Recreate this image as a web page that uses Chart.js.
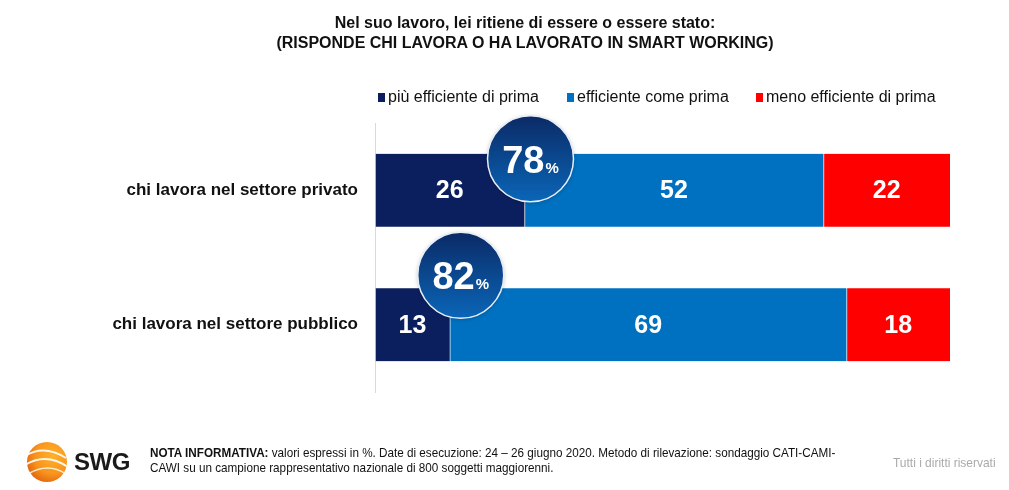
<!DOCTYPE html>
<html>
<head>
<meta charset="utf-8">
<script src="https://cdn.jsdelivr.net/npm/chart.js@4"></script>
<style>
  body { margin: 0; background: #fff; font-family: "Liberation Sans", Arial, sans-serif; }
  #wrap { position: relative; width: 1009px; height: 490px; overflow: hidden; }
  #chart { position: absolute; left: 0; top: 0; }
  #title { position: absolute; left: 0; width: 1050px; top: 13px; text-align: center; font-weight: bold; font-size: 16px; line-height: 20px; color: #111; }
  #legend { position: absolute; left: 378px; top: 88px; font-size: 16px; color: #111; }
  #legend span.item { position: absolute; white-space: nowrap; }
  #legend i { display: inline-block; width: 7px; height: 9px; margin-right: 3px; vertical-align: 0px; }
  #logo { position: absolute; left: 22px; top: 438px; }
  #swg { position: absolute; left: 74px; top: 448px; font-weight: bold; font-size: 24px; color: #1a1a1a; letter-spacing: -0.5px; }
  #note { position: absolute; left: 150px; top: 445px; font-size: 13px; line-height: 15px; color: #111; white-space: nowrap; transform: scaleX(0.9); transform-origin: 0 0; }
  #rights { position: absolute; left: 893px; top: 455px; font-size: 13px; color: #aaa; white-space: nowrap; transform: scaleX(0.92); transform-origin: 0 0; }
</style>
</head>
<body>
<div id="wrap">
  <canvas id="chart" width="1009" height="490"></canvas>
  <div id="title">Nel suo lavoro, lei ritiene di essere o essere stato:<br>(RISPONDE CHI LAVORA O HA LAVORATO IN SMART WORKING)</div>
  <div id="legend"></div>
  <svg id="logo" width="48" height="48" viewBox="0 0 48 48">
    <defs>
      <radialGradient id="g" cx="0.65" cy="0.35" r="0.75">
        <stop offset="0" stop-color="#ffb12a"/>
        <stop offset="0.6" stop-color="#f7941d"/>
        <stop offset="1" stop-color="#e2600e"/>
      </radialGradient>
    </defs>
    <circle cx="25" cy="24" r="20" fill="url(#g)"/>
    <path d="M3 18 Q 22 6 44 20" stroke="#fff" stroke-width="2" fill="none" opacity="0.9"/>
    <path d="M3 27 Q 24 14 46 29" stroke="#fff" stroke-width="2" fill="none" opacity="0.9"/>
    <path d="M6 36 Q 26 24 44 36" stroke="#fff" stroke-width="1.6" fill="none" opacity="0.8"/>
  </svg>
  <div id="swg">SWG</div>
  <div id="note"><b>NOTA INFORMATIVA:</b> valori espressi in %. Date di esecuzione: 24 &ndash; 26 giugno 2020. Metodo di rilevazione: sondaggio CATI-CAMI-<br>CAWI su un campione rappresentativo nazionale di 800 soggetti maggiorenni.</div>
  <div id="rights">Tutti i diritti riservati</div>
</div>
<script>
const categories = ['chi lavora nel settore privato', 'chi lavora nel settore pubblico'];
const seriesLabels = ['più efficiente di prima', 'efficiente come prima', 'meno efficiente di prima'];
const piuEfficiente = [26, 13];
const efficienteCome = [52, 69];
const menoEfficiente = [22, 18];
const seriesColors = ['#0b1f5e', '#0070c0', '#ff0000'];

// white numbers inside each segment
const segmentLabels = {
    id: 'segmentLabels',
    afterDatasetsDraw(chart) {
        const ctx = chart.ctx;
        ctx.save();
        ctx.fillStyle = '#fff';
        ctx.font = 'bold 25px "Liberation Sans", Arial, sans-serif';
        ctx.textAlign = 'center';
        ctx.textBaseline = 'middle';
        chart.data.datasets.forEach((ds, i) => {
            chart.getDatasetMeta(i).data.forEach((bar, j) => {
                const x = (bar.x + bar.base) / 2;
                ctx.fillText(ds.data[j], x, bar.y + 1);
            });
        });
        ctx.restore();
    }
};

// total "efficient" bubble on the edge of the first segment
const totalBubble = {
    id: 'totalBubble',
    afterDatasetsDraw(chart, args, opts) {
        const ctx = chart.ctx;
        const meta = chart.getDatasetMeta(0);
        meta.data.forEach((bar, j) => {
            const total = piuEfficiente[j] + efficienteCome[j];
            const off = opts.offsets[j];
            const cx = bar.x + off[0];
            const cy = bar.y - bar.height / 2 + off[1];
            const r = opts.radius;
            ctx.save();
            ctx.shadowColor = 'rgba(0,0,0,0.25)';
            ctx.shadowBlur = 4;
            ctx.shadowOffsetY = 1;
            const g = ctx.createLinearGradient(0, cy - r, 0, cy + r);
            g.addColorStop(0, '#0b2a66');
            g.addColorStop(1, '#0a66b8');
            ctx.beginPath();
            ctx.arc(cx, cy, r, 0, Math.PI * 2);
            ctx.fillStyle = g;
            ctx.fill();
            ctx.shadowColor = 'transparent';
            ctx.lineWidth = 1.5;
            ctx.strokeStyle = '#e8eef6';
            ctx.stroke();

            ctx.fillStyle = '#fff';
            ctx.textBaseline = 'alphabetic';
            ctx.font = 'bold 38px "Liberation Sans", Arial, sans-serif';
            const numW = ctx.measureText(total).width;
            ctx.font = 'bold 15px "Liberation Sans", Arial, sans-serif';
            const pctW = ctx.measureText('%').width;
            const startX = cx - (numW + pctW + 1) / 2;
            ctx.font = 'bold 38px "Liberation Sans", Arial, sans-serif';
            ctx.textAlign = 'left';
            ctx.fillText(total, startX, cy + 14);
            ctx.font = 'bold 15px "Liberation Sans", Arial, sans-serif';
            ctx.fillText('%', startX + numW + 1, cy + 14);
            ctx.restore();
        });
    }
};

const chart = new Chart(document.getElementById('chart'), {
    type: 'bar',
    data: {
        labels: categories,
        datasets: [piuEfficiente, efficienteCome, menoEfficiente].map((data, i) => ({
            label: seriesLabels[i],
            data: data,
            backgroundColor: seriesColors[i],
            borderColor: '#ffffff',
            borderWidth: { left: 1, right: 0, top: 0, bottom: 0 },
            borderSkipped: false,
            barThickness: 73
        }))
    },
    options: {
        indexAxis: 'y',
        responsive: false,
        animation: false,
        layout: { padding: { top: 123, right: 59, bottom: 98, left: 0 } },
        plugins: {
            legend: { display: false },
            tooltip: { enabled: false },
            totalBubble: { radius: 43, offsets: [[6, 5], [11, -13]] }
        },
        scales: {
            x: {
                stacked: true,
                min: 0,
                max: 100,
                display: false
            },
            y: {
                stacked: true,
                afterFit(scale) { scale.width = 375; },
                grid: { display: false, drawTicks: false },
                border: { display: true, color: '#d9d9d9', width: 1 },
                ticks: {
                    color: '#111',
                    padding: 17,
                    font: { family: '"Liberation Sans", Arial, sans-serif', size: 17, weight: 'bold' }
                }
            }
        }
    },
    plugins: [segmentLabels, totalBubble]
});

// html legend built from the chart datasets
const legendX = [0, 189, 378];
const legendEl = document.getElementById('legend');
chart.data.datasets.forEach((ds, i) => {
    const item = document.createElement('span');
    item.className = 'item';
    item.style.left = legendX[i] + 'px';
    item.innerHTML = '<i style="background:' + ds.backgroundColor + '"></i>' + ds.label;
    legendEl.appendChild(item);
});
</script>
</body>
</html>
